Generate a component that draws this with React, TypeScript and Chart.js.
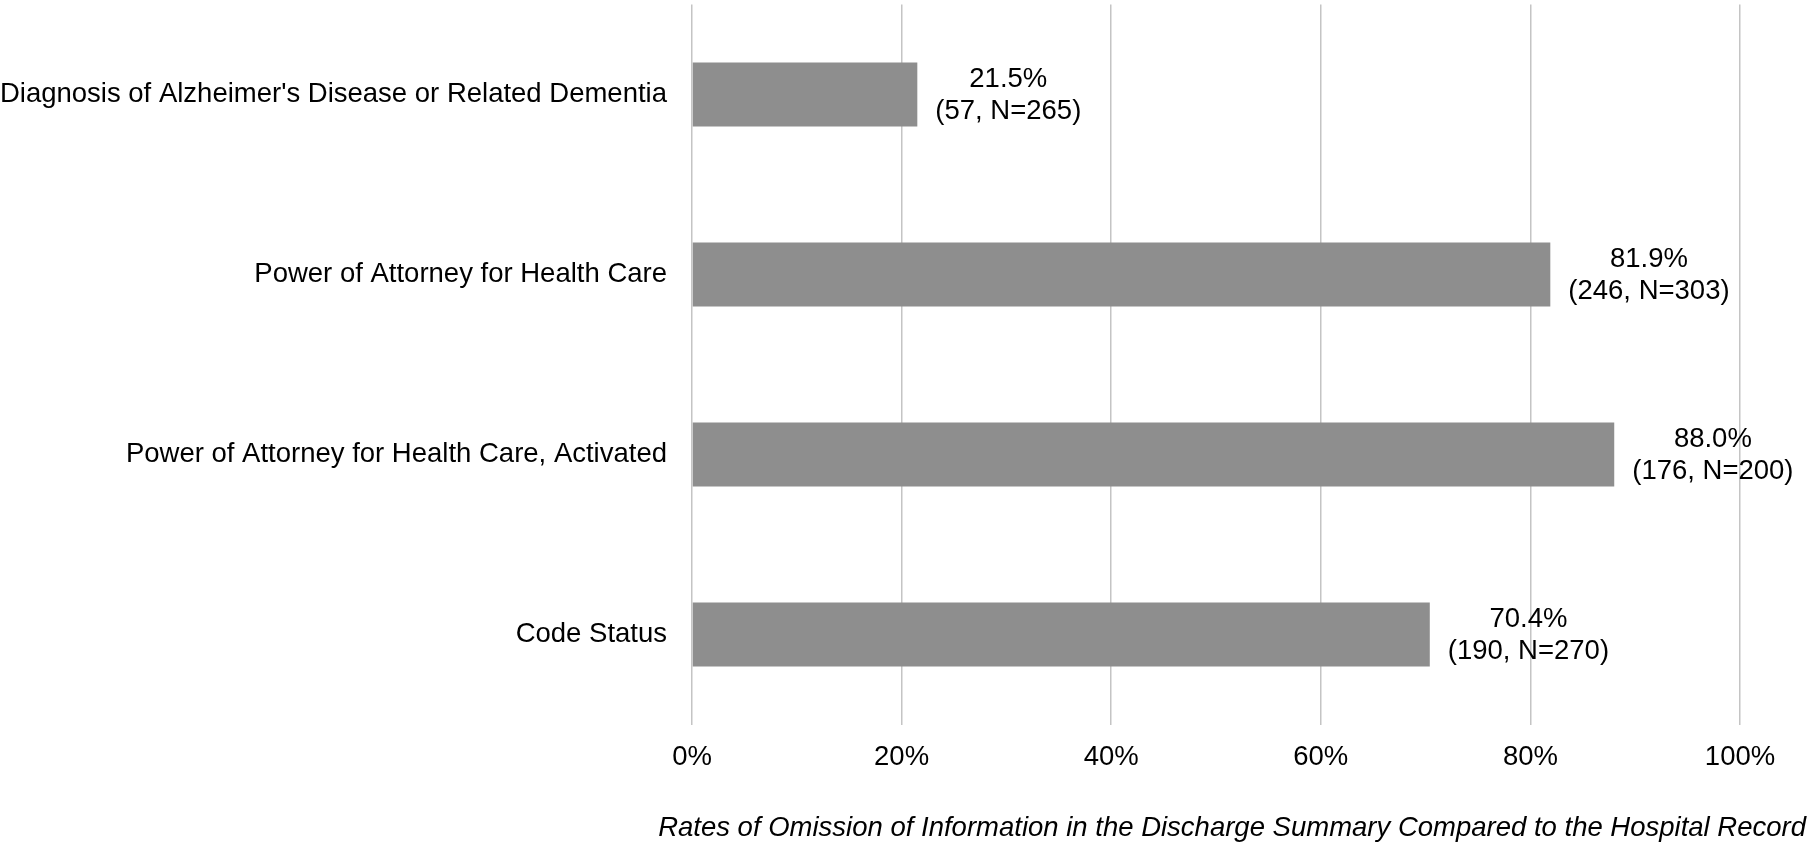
import React, { useEffect, useRef } from 'react';
import { Chart, registerables, Plugin } from 'chart.js';

Chart.register(...registerables);

const categories = [
  "Diagnosis of Alzheimer's Disease or Related Dementia",
  'Power of Attorney for Health Care',
  'Power of Attorney for Health Care, Activated',
  'Code Status',
];
const rates = [21.5, 81.9, 88.0, 70.4];
const counts = [57, 246, 176, 190];
const totals = [265, 303, 200, 270];
const xTicks = [0, 20, 40, 60, 80, 100];
const axisTitle = 'Rates of Omission of Information in the Discharge Summary Compared to the Hospital Record';

const FONT = '"Liberation Sans", Arial, sans-serif';
const SIZE = 27.5;

// two-line labels just past the end of each bar
const barLabels: Plugin<'bar'> = {
  id: 'barLabels',
  afterDatasetsDraw(chart) {
    const ctx = chart.ctx;
    const meta = chart.getDatasetMeta(0);
    ctx.save();
    ctx.font = `${SIZE}px ${FONT}`;
    ctx.fillStyle = '#000';
    ctx.textAlign = 'center';
    ctx.textBaseline = 'middle';
    meta.data.forEach((bar: any, i) => {
      const l1 = `${rates[i].toFixed(1)}%`;
      const l2 = `(${counts[i]}, N=${totals[i]})`;
      const w = Math.max(ctx.measureText(l1).width, ctx.measureText(l2).width);
      const cx = bar.x + 18 + w / 2;
      ctx.fillText(l1, cx, bar.y - 15);
      ctx.fillText(l2, cx, bar.y + 17);
    });
    ctx.restore();
  },
};

const axisTitlePlugin: Plugin<'bar'> = {
  id: 'axisTitle',
  afterDraw(chart) {
    const ctx = chart.ctx;
    ctx.save();
    ctx.font = `italic ${SIZE}px ${FONT}`;
    ctx.fillStyle = '#000';
    ctx.textAlign = 'right';
    ctx.textBaseline = 'middle';
    ctx.fillText(axisTitle, chart.chartArea.right + 66, 828);
    ctx.restore();
  },
};

const App: React.FC = () => {
  const chartRef = useRef<HTMLCanvasElement>(null);
  const chartInstance = useRef<Chart | null>(null);

  useEffect(() => {
    if (!chartRef.current) return;
    if (chartInstance.current) chartInstance.current.destroy();

    chartInstance.current = new Chart(chartRef.current, {
      type: 'bar',
      data: {
        labels: categories,
        datasets: [
          {
            data: rates,
            backgroundColor: '#8e8e8e',
            borderWidth: 0,
            barPercentage: 0.355,
            categoryPercentage: 1,
          },
        ],
      },
      options: {
        indexAxis: 'y',
        animation: false,
        responsive: true,
        maintainAspectRatio: false,
        layout: { padding: { top: 4.5, right: 74, bottom: 0, left: 0 } },
        plugins: {
          legend: { display: false },
          tooltip: { enabled: false },
        },
        scales: {
          x: {
            min: 0,
            max: 100,
            afterBuildTicks: (scale) => {
              scale.ticks = xTicks.map((v) => ({ value: v }));
            },
            afterFit: (scale) => {
              scale.height = 126.5;
            },
            grid: { color: '#c4c4c4', lineWidth: 1.5, drawTicks: false },
            border: { display: false },
            ticks: {
              padding: 16,
              color: '#000',
              font: { family: FONT, size: SIZE },
              callback: (v) => `${v}%`,
            },
          },
          y: {
            afterFit: (scale: any) => {
              scale.width = 692;
              // the label padding must not shrink the plot vertically
              scale.paddingTop = 0;
              scale.paddingBottom = 0;
            },
            grid: { display: false, drawTicks: false },
            border: { display: false },
            ticks: {
              padding: 25,
              color: '#000',
              font: { family: FONT, size: SIZE },
            },
          },
        },
      },
      plugins: [barLabels, axisTitlePlugin],
    });

    return () => {
      if (chartInstance.current) {
        chartInstance.current.destroy();
        chartInstance.current = null;
      }
    };
  }, []);

  return (
    <div style={{ position: 'fixed', left: 0, top: 0, width: 1814, height: 851, background: '#fff' }}>
      <canvas ref={chartRef}></canvas>
    </div>
  );
};

export default App;
